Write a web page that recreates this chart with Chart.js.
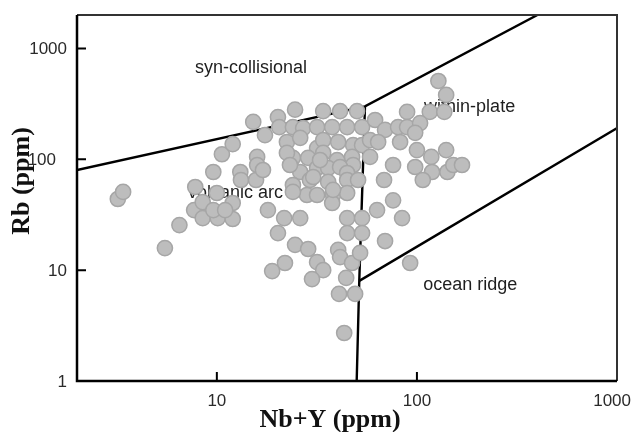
<!DOCTYPE html>
<html>
<head>
<meta charset="utf-8">
<script src="https://cdn.jsdelivr.net/npm/chart.js@4.4.1/dist/chart.umd.min.js"></script>
<style>
html,body{margin:0;padding:0;background:#fff;}
#wrap{width:633px;height:432px;position:relative;}
</style>
</head>
<body>
<div id="wrap"><canvas id="c"></canvas></div>
<script>
// ---- Data ----
const nbY = [3.2,3.4,5.5,6.5,7.8,7.7,8.5,8.5,10.0,10.1,12.0,12.0,9.6,10.6,12.0,13.1,13.2,15.7,15.9,15.9,17.4,15.2,18.0,9.6,11.0,
  20.2,24.6,34.0,41.3,50.2,20.5,24.0,27.0,31.7,37.7,44.8,53.2,22.4,26.1,31.7,34.0,40.4,48.0,53.2,24.0,28.6,34.0,39.9,47.4,48.0,
  26.1,31.7,36.0,41.3,44.8,24.0,29.2,36.0,44.8,50.8,28.2,31.7,38.1,44.8,17.0,
  128,140,89.3,116,137,61.8,69.3,80.5,89.3,103.7,98,82.4,58.3,64,100,58.3,140,118,98,119,142,152,168,76,68.5,107,76,
  21.7,26.1,20.2,24.6,28.6,31.7,34.0,29.9,21.9,18.9,44.8,53.2,44.8,53.2,63.2,84.3,69.3,92.5,40.4,41.3,47.4,52,44.3,40.8,49.1,43.3,
  24.0,37.7,38.1,22.4,23.2,32.8,30.3];
const rb = [43.8,50.7,15.8,25.5,56.2,34.8,41.1,29.5,49.6,29.5,40.3,28.9,76.7,111,137,76.7,65,65,105,88.7,165,217,34.8,34.8,34.8,
  240,280,272,272,272,195,195,191,195,195,195,195,143,156,126,149,143,134,134,103,103,114,98,105,88.7,
  76.7,83.4,83.4,85,75.2,58.6,65,62.4,65,65,47.6,47.6,47.6,49.6,80,
  508,380,267,267,267,226,184,195,195,212,173,143,149,143,121,105,121,105,85.1,76.7,76.7,88.7,88.7,88.7,65,65,42.6,
  29.5,29.5,21.6,16.9,15.5,11.8,10.0,8.3,11.6,9.8,29.5,29.5,21.6,21.6,34.8,29.5,18.3,11.6,15.2,13.1,11.6,14.3,8.5,6.1,6.1,2.71,
  50.7,40.3,53,114,88.7,98.4,69.2];

// Pearce et al. (1984) discrimination boundaries
const synVagX = [2, 55, 400];
const synVagY = [80, 300, 2000];
const vagWpgX = [50, 51.5, 55];
const vagWpgY = [1, 8, 300];
const orgWpgX = [51.5, 2000];
const orgWpgY = [8, 400];

const xTicks = [10, 100, 1000];
const yTicks = [1, 10, 100, 1000];
const regionNames = ['syn-collisional', 'within-plate', 'volcanic arc', 'ocean ridge'];
const xTitle = 'Nb+Y (ppm)';
const yTitle = 'Rb (ppm)';

const pts = nbY.map((v, i) => ({x: v, y: rb[i]}));
const line = (xs, ys) => xs.map((v, i) => ({x: v, y: ys[i]}));

const lineStyle = {type: 'line', showLine: true, pointRadius: 0, borderColor: '#000', borderWidth: 2.4, fill: false, order: 2, tension: 0};

const decor = {
  id: 'decor',
  beforeDatasetsDraw(chart) {
    const ctx = chart.ctx, xs = chart.scales.x, ys = chart.scales.y;
    const anchors = [[7.78, 665], [108.6, 296], [7.18, 49.6], [107.4, 7.34]];
    ctx.save();
    ctx.fillStyle = '#1e1e1e';
    ctx.font = '18px "Liberation Sans", Arial, sans-serif';
    ctx.textAlign = 'left';
    ctx.textBaseline = 'middle';
    regionNames.forEach((t, i) => {
      ctx.fillText(t, xs.getPixelForValue(anchors[i][0]), ys.getPixelForValue(anchors[i][1]));
    });
    ctx.restore();
  },
  afterDatasetsDraw(chart) {
    const ctx = chart.ctx, a = chart.chartArea, xs = chart.scales.x, ys = chart.scales.y;
    ctx.save();
    // frame
    ctx.strokeStyle = '#333';
    ctx.lineWidth = 2;
    ctx.beginPath();
    ctx.moveTo(a.left, a.top); ctx.lineTo(a.right, a.top); ctx.lineTo(a.right, a.bottom);
    ctx.stroke();
    ctx.strokeStyle = '#000';
    ctx.lineWidth = 2.5;
    ctx.beginPath();
    ctx.moveTo(a.left, a.top); ctx.lineTo(a.left, a.bottom); ctx.lineTo(a.right, a.bottom);
    ctx.stroke();
    // inward ticks
    ctx.lineWidth = 2;
    ctx.beginPath();
    xTicks.forEach(v => {
      const p = xs.getPixelForValue(v);
      if (p < a.right - 2) { ctx.moveTo(p, a.bottom); ctx.lineTo(p, a.bottom - 9); }
    });
    yTicks.forEach(v => {
      const p = ys.getPixelForValue(v);
      if (p < a.bottom - 2) { ctx.moveTo(a.left, p); ctx.lineTo(a.left + 9, p); }
    });
    ctx.stroke();
    // tick labels
    ctx.fillStyle = '#2a2a2a';
    ctx.font = '17px "Liberation Sans", Arial, sans-serif';
    ctx.textBaseline = 'middle';
    ctx.textAlign = 'center';
    xTicks.forEach(v => {
      const p = xs.getPixelForValue(v);
      const w = ctx.measureText(String(v)).width;
      const cx = Math.min(p, chart.width - 2 - w / 2);
      ctx.fillText(String(v), cx, a.bottom + 20);
    });
    ctx.textAlign = 'right';
    yTicks.forEach(v => {
      const p = ys.getPixelForValue(v);
      const dx = (v === 100) ? 21 : 10;
      ctx.fillText(String(v), a.left - dx, p + 1);
    });
    // axis titles
    ctx.fillStyle = '#111';
    ctx.font = 'bold 26px "Liberation Serif", "Times New Roman", serif';
    ctx.textAlign = 'center';
    ctx.textBaseline = 'alphabetic';
    ctx.fillText(xTitle, 330, 427);
    ctx.translate(29, 181);
    ctx.rotate(-Math.PI / 2);
    ctx.fillText(yTitle, 0, 0);
    ctx.restore();
  }
};

new Chart(document.getElementById('c'), {
  type: 'scatter',
  data: {
    datasets: [
      {label: 'samples', data: pts, pointRadius: 7.6, pointHoverRadius: 7.6, pointBackgroundColor: '#bdbdbd', pointBorderColor: '#a6a6a6', pointBorderWidth: 1.5, order: 0},
      Object.assign({label: 'syn-COLG / VAG+WPG', data: line(synVagX, synVagY)}, lineStyle),
      Object.assign({label: 'VAG / WPG+ORG', data: line(vagWpgX, vagWpgY)}, lineStyle),
      Object.assign({label: 'ORG / WPG', data: line(orgWpgX, orgWpgY)}, lineStyle)
    ]
  },
  options: {
    responsive: true,
    maintainAspectRatio: false,
    animation: false,
    layout: {padding: {left: 77, top: 15, right: 16, bottom: 51}},
    plugins: {legend: {display: false}, tooltip: {enabled: false}},
    scales: {
      x: {type: 'logarithmic', min: 2, max: 1000, display: false},
      y: {type: 'logarithmic', min: 1, max: 2000, display: false}
    }
  },
  plugins: [decor]
});
</script>
</body>
</html>
